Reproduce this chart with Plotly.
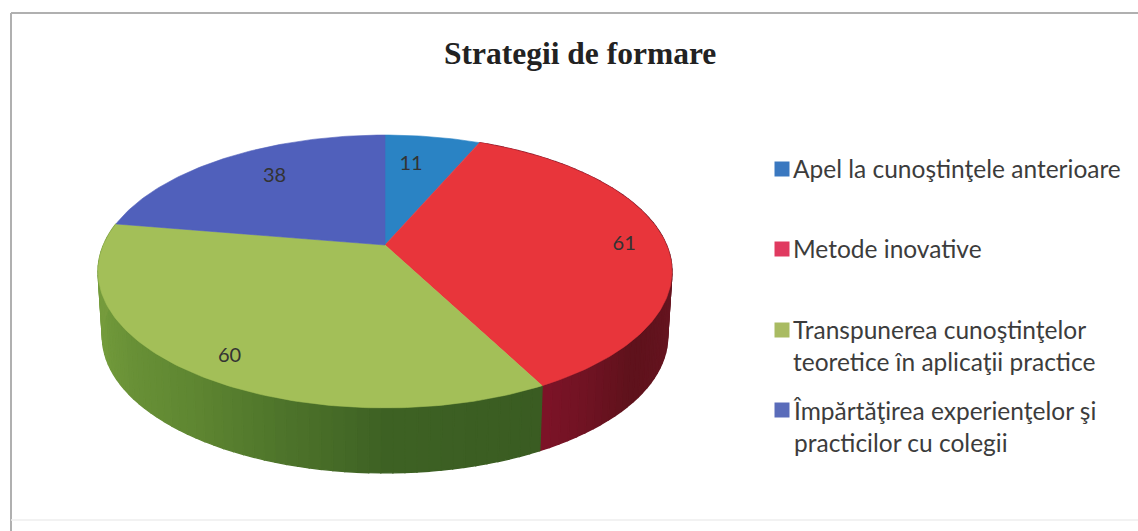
import math
import plotly.graph_objects as go

# --- data ---
title = "Strategii de formare"
categories = [
    "Apel la cunoştinţele anterioare",
    "Metode inovative",
    "Transpunerea cunoştinţelor<br>teoretice în aplicaţii practice",
    "Împărtăţirea experienţelor şi<br>practicilor cu colegii",
]
values = [11, 61, 60, 38]

# --- style ---
top_colors = ["#2a83c4", "#e8353b", "#a3bf58", "#5060bb"]
legend_colors = ["#3a78c0", "#e03a60", "#a9bb62", "#5a6cba"]
# side wall colours: (angle in degrees, clockwise from top -> rgb)
side_stops = {
    1: [(72, (105, 22, 34)), (100, (105, 22, 34)), (130, (95, 18, 28)), (152, (125, 20, 40))],
    2: [(152, (58, 92, 34)), (180, (62, 98, 36)), (215, (95, 135, 50)), (250, (115, 155, 60)), (280, (120, 155, 62))],
}
label_r = [0.70, 0.85, 0.87, 0.72]
label_shift = [-3, 2, -3, 3]
label_color = "#333333"
text_color = "#3c3c3c"

# --- projection of the tilted disc into page pixels ---
CX, CY, A, B, K = 385.0, 245.0, 281.5, 131.3, 0.194
DEPTH, BOTTOM_SCALE = 65.0, 0.985


def project(angle_deg, r=1.0, lower=False):
    t = math.radians(angle_deg)
    u, v = r * math.sin(t), r * math.cos(t)
    w = 1 + K * v
    x, y = A * u / w, -B * v / w
    if lower:
        x *= BOTTOM_SCALE
        return CX + x, CY + y + DEPTH
    return CX + x, CY + y


def side_color(stops, a):
    for (a0, c0), (a1, c1) in zip(stops, stops[1:]):
        if a0 <= a <= a1:
            f = (a - a0) / (a1 - a0)
            return "rgb(%d,%d,%d)" % tuple(c0[i] + (c1[i] - c0[i]) * f for i in range(3))
    return "rgb(%d,%d,%d)" % stops[-1][1]


total = sum(values)
edges = [0.0]
for v in values:
    edges.append(edges[-1] + v / total * 360)

fig = go.Figure()


def poly(xs, ys, color, name=None, width=0.6):
    fig.add_trace(go.Scatter(x=xs, y=ys, mode="lines", fill="toself", fillcolor=color,
                             line=dict(color=color, width=width), hoverinfo="skip",
                             showlegend=False, name=name))


# side wall
for i, stops in side_stops.items():
    a0, a1 = edges[i], min(edges[i + 1], 290)
    n = int((a1 - a0) / 2)
    for j in range(n):
        s = a0 + (a1 - a0) * j / n
        e = a0 + (a1 - a0) * (j + 1) / n
        pts = [project(s + (e - s) * k / 3) for k in range(4)]
        low = [project(e - (e - s) * k / 3, lower=True) for k in range(4)]
        all_pts = pts + low + [pts[0]]
        poly([p[0] for p in all_pts], [p[1] for p in all_pts], side_color(stops, (s + e) / 2), width=1.4)

# top face
for i, v in enumerate(values):
    n = max(int(edges[i + 1] - edges[i]), 8)
    pts = [(CX, CY)] + [project(edges[i] + (edges[i + 1] - edges[i]) * k / n) for k in range(n + 1)] + [(CX, CY)]
    poly([p[0] for p in pts], [p[1] for p in pts], top_colors[i], categories[i])

# data labels
lab = [project((edges[i] + edges[i + 1]) / 2 + label_shift[i], label_r[i]) for i in range(4)]
fig.add_trace(go.Scatter(x=[p[0] for p in lab], y=[p[1] for p in lab], mode="text",
                         text=[str(v) for v in values], hoverinfo="skip", showlegend=False,
                         textfont=dict(family="Lato", size=20, color=label_color)))

# legend
legend_y = [169, 249, 330, 410]
fig.add_trace(go.Scatter(x=[782] * 4, y=legend_y, mode="markers", hoverinfo="skip", showlegend=False,
                         marker=dict(symbol="square", size=15, color=legend_colors)))
text_y = [168, 248, 345, 426]
for cat, y in zip(categories, text_y):
    fig.add_annotation(x=791, y=y, xref="x", yref="y", text=cat, showarrow=False, xanchor="left",
                       yanchor="middle", align="left",
                       font=dict(family="Lato", size=24.5, color=text_color))

fig.update_layout(
    width=1138, height=531, autosize=False,
    margin=dict(l=0, r=0, t=0, b=0),
    paper_bgcolor="white", plot_bgcolor="white",
    showlegend=False,
    xaxis=dict(range=[0, 1138], visible=False, fixedrange=True),
    yaxis=dict(range=[531, 0], visible=False, fixedrange=True),
    shapes=[
        dict(type="line", xref="x", yref="y", x0=11, x1=11, y0=13, y1=531, line=dict(color="#b0b0b0", width=2)),
        dict(type="line", xref="x", yref="y", x0=11, x1=1138, y0=13, y1=13, line=dict(color="#b0b0b0", width=2)),
        dict(type="line", xref="x", yref="y", x0=11, x1=1138, y0=520, y1=520, line=dict(color="#eeeeee", width=1.5)),
    ],
    annotations=list(fig.layout.annotations) + [
        dict(x=580, y=53, xref="x", yref="y", text="<b>%s</b>" % title, showarrow=False,
             font=dict(family="Liberation Serif", size=31.5, color="#222222"))
    ],
)

fig.write_html("out.html", config=dict(displayModeBar=False),
               post_script="document.body.style.margin='0';")
